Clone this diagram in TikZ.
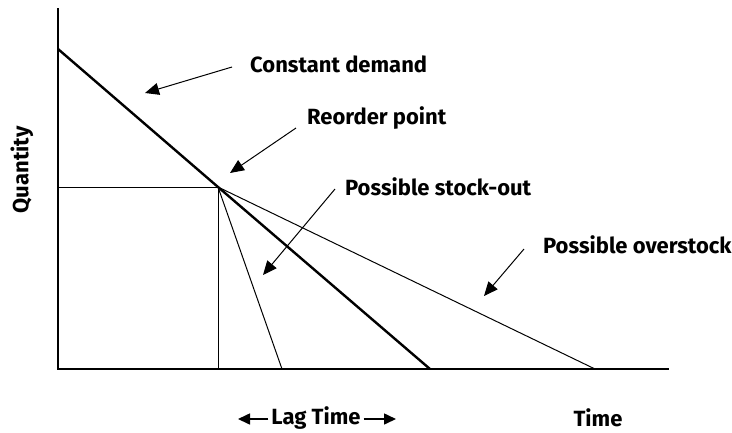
\documentclass[tikz,border=0pt]{standalone}
\usepackage{fontspec}
\setmainfont{Fira Sans}
\usetikzlibrary{arrows.meta}
\begin{document}
\begin{tikzpicture}[x=1pt,y=-1pt,
  lbl/.style={font=\fontsize{22}{24}\selectfont\bfseries, inner sep=0pt},
  axis/.style={line width=2.4pt},
  demand/.style={line width=2.4pt},
  thinline/.style={line width=1pt},
  callout/.style={line width=1pt, -{Triangle[length=14pt,width=12pt]}},
  lagarrow/.style={line width=1.6pt, -{Triangle[length=12pt,width=11pt]}}]
\useasboundingbox (0,0) rectangle (732,432);
% axes
\coordinate (top) at (58,8);
\coordinate (origin) at (58,369);
\coordinate (xend) at (669,369);
\draw[axis] (top) -- (origin) -- (xend);
% demand line
\coordinate (start) at (58,49);
\coordinate (rp) at (218,187);
\coordinate (end) at (430,369);
\coordinate (rpy) at (58,187);
\coordinate (rpx) at (218,369);
\coordinate (so) at (282,369);
\coordinate (os) at (595,369);
\draw[demand] (start) -- (rp) -- (end);
\draw[thinline] (rpy) -- (rp) -- (rpx);
\draw[thinline] (rp) -- (so);
\draw[thinline] (rp) -- (os);
% labels
\node[lbl, anchor=west] (cd) at (250,64) {Constant demand};
\node[lbl, anchor=west] (rpl) at (307,118) {Reorder point};
\node[lbl, anchor=west] (sol) at (345,187) {Possible stock-out};
\node[lbl, anchor=west] (osl) at (543,245) {Possible overstock};
\node[lbl] (time) at (598,418) {Time};
\node[lbl] (lag) at (316,418) {Lag Time};
\node[lbl, rotate=90] (qty) at (22,170) {Quantity};
% callout arrows
\coordinate (cda) at (232,67);
\coordinate (cdb) at (145,93);
\coordinate (rpa) at (296,128);
\coordinate (rpb) at (230,173);
\coordinate (soa) at (335,189);
\coordinate (sob) at (263,275);
\coordinate (osa) at (524,249);
\coordinate (osb) at (484,296);
\draw[callout] (cda) -- (cdb);
\draw[callout] (rpa) -- (rpb);
\draw[callout] (soa) -- (sob);
\draw[callout] (osa) -- (osb);
% lag time arrows
\coordinate (lagl) at (238,419);
\coordinate (lagr) at (396,419);
\draw[lagarrow] ([xshift=-3pt]lag.west |- lagl) -- (lagl);
\draw[lagarrow] ([xshift=3pt]lag.east |- lagr) -- (lagr);
\end{tikzpicture}
\end{document}
